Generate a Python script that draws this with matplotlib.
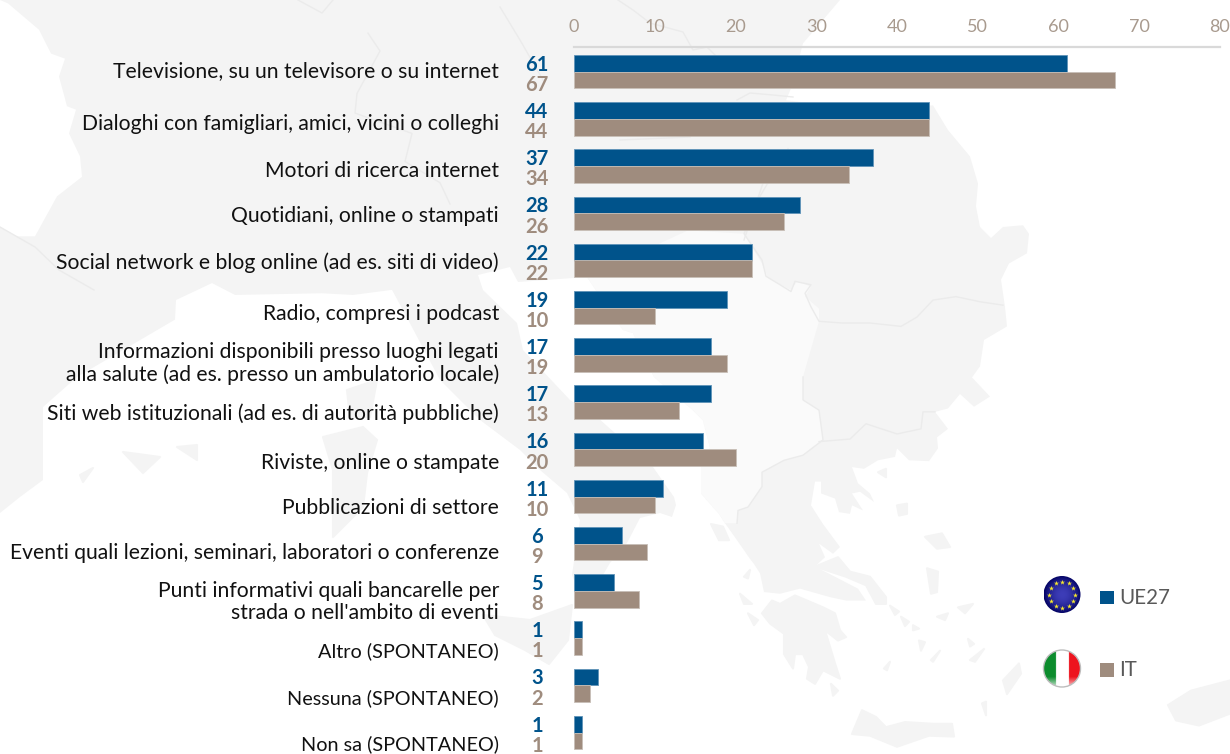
import numpy as np
import matplotlib
matplotlib.use('Agg')
import matplotlib.pyplot as plt
from matplotlib.patches import Polygon, Circle, Rectangle

plt.rcParams['font.family'] = ['Lato', 'DejaVu Sans']

# --- data ---
labels = [
    "Televisione, su un televisore o su internet",
    "Dialoghi con famigliari, amici, vicini o colleghi",
    "Motori di ricerca internet",
    "Quotidiani, online o stampati",
    "Social network e blog online (ad es. siti di video)",
    "Radio, compresi i podcast",
    "Informazioni disponibili presso luoghi legati\nalla salute (ad es. presso un ambulatorio locale)",
    "Siti web istituzionali (ad es. di autorità pubbliche)",
    "Riviste, online o stampate",
    "Pubblicazioni di settore",
    "Eventi quali lezioni, seminari, laboratori o conferenze",
    "Punti informativi quali bancarelle per\nstrada o nell'ambito di eventi",
    "Altro (SPONTANEO)",
    "Nessuna (SPONTANEO)",
    "Non sa (SPONTANEO)",
]
ue27 = [61, 44, 37, 28, 22, 19, 17, 17, 16, 11, 6, 5, 1, 3, 1]
it = [67, 44, 34, 26, 22, 10, 19, 13, 20, 10, 9, 8, 1, 2, 1]
x_ticks = [0, 10, 20, 30, 40, 50, 60, 70, 80]

# labels do not sit exactly on the row centre in the original (pixels, + = down)
label_shift = [-1, 5, 5, 3, 2, 6, 9, 12, 14, 12, 9, 11, 13, 13, 12]
# capitals run wide in Lato, the last three need a smaller size to keep their width
label_size = [15.2] * 12 + [14.3] * 3

BLUE = '#00538b'
BROWN = '#9f8c7e'
W, H = 1230, 754


def up(pts):
    return [(x, y * 0.85) for x, y in pts]


def lo(pts):
    return [(x, 377 + (y - 377) * 0.85) for x, y in pts]


fig = plt.figure(figsize=(W / 100, H / 100), dpi=100)

# --- background map, drawn in pixel coordinates ---
bg = fig.add_axes([0, 0, 1, 1], zorder=0)
bg.set_xlim(0, W)
bg.set_ylim(H, 0)
bg.axis('off')

LAND = '#f4f4f4'
LIGHT = '#fafafa'
BORDER = '#ebebeb'

land = [(0, 0)]
land += up([(840, 0), (803, 51), (791, 104), (786, 118), (860, 128), (933, 124), (948, 153), (970, 184),
            (978, 216), (976, 243), (980, 267), (991, 280), (1003, 267), (1023, 265), (1029, 275), (1027, 298),
            (1009, 310), (1001, 329), (1005, 361), (1007, 384), (984, 400), (980, 431), (972, 444)])
land += lo([(990, 400), (974, 412), (960, 397), (948, 414), (935, 418), (948, 438), (937, 448), (938, 461),
            (929, 476), (909, 475), (897, 461), (895, 471), (878, 475), (864, 485), (852, 483), (858, 502),
            (870, 514), (874, 524), (860, 512), (852, 514), (863, 534), (852, 528), (850, 538), (839, 536),
            (835, 520), (821, 514), (821, 500), (815, 500), (811, 528), (823, 550), (840, 577), (833, 585),
            (819, 573), (825, 589), (815, 600), (835, 612), (858, 626), (866, 640), (846, 640), (830, 636),
            (800, 626), (780, 632), (764, 630), (760, 608), (754, 597), (750, 591), (737, 569), (725, 549),
            (719, 538), (701, 514), (701, 484), (710, 460), (703, 428), (693, 416)])
land += [(654, 377), (633, 333), (623, 330), (587, 277), (518, 282), (510, 267), (478, 275), (483, 290), (517, 323),
         (523, 350), (570, 400), (597, 417), (653, 467), (674, 497), (676, 505), (672, 517), (660, 513), (640, 518),
         (627, 543), (610, 563), (600, 580), (580, 595), (572, 575), (580, 520), (567, 493), (540, 470), (520, 450),
         (480, 420), (440, 380)]
land += up([(408, 376), (392, 341), (353, 347), (322, 345), (235, 347), (212, 333), (176, 353), (175, 376)])
land += [(77, 377), (43, 407), (43, 480), (20, 497), (0, 513)]
bg.add_patch(Polygon(land, closed=True, fc=LAND, ec='none'))

biscay = up([(0, 0), (8, 4), (39, 35), (51, 63), (65, 69), (59, 90), (67, 125), (76, 129), (69, 157), (80, 184),
             (82, 208), (57, 231), (35, 278), (16, 278), (0, 267)])
bg.add_patch(Polygon(biscay, closed=True, fc='white', ec='none'))

# lighter countries (west Balkans)
balkans = up([(688, 271), (744, 275), (764, 314), (768, 327), (791, 341), (797, 331), (811, 337), (805, 349),
              (819, 363), (819, 378)])
balkans += lo([(803, 377), (803, 404), (819, 416), (823, 451), (803, 469), (784, 475), (762, 489), (762, 506),
               (748, 530), (738, 534), (737, 549), (725, 549), (719, 538), (701, 514), (701, 484), (710, 460),
               (703, 428), (693, 416)])
balkans += [(654, 377), (633, 333), (623, 330), (587, 277)]
bg.add_patch(Polygon(balkans, closed=True, fc=LIGHT, ec='none'))

for pts in [
    [(772, 640), (780, 644), (795, 634), (823, 648), (835, 655), (840, 675), (846, 683), (838, 687), (825, 675),
     (835, 714), (840, 732), (823, 722), (815, 738), (807, 732), (809, 718), (803, 703), (795, 703), (793, 720),
     (784, 703), (784, 679), (770, 667), (762, 655)],
    [(815, 600), (838, 589), (850, 606), (870, 612), (886, 636), (886, 644), (876, 644), (866, 622), (846, 612)],
    [(852, 797), (862, 769), (876, 777), (886, 789), (905, 783), (933, 785), (952, 785), (954, 800), (929, 799),
     (897, 812), (870, 799)],
    [(1168, 763), (1191, 746), (1230, 734), (1230, 773), (1199, 787), (1176, 781)],
    [(1003, 734), (1019, 714), (1021, 726), (1007, 750)],
    [(982, 761), (986, 759), (986, 775)],
    [(925, 565), (942, 561), (950, 577), (937, 579)],
    [(927, 602), (938, 606), (937, 630), (931, 632)],
    [(897, 528), (907, 526), (907, 538), (899, 540)],
    [(878, 489), (886, 485), (886, 495)],
    [(711, 550), (723, 553), (729, 569), (719, 569)],
    [(744, 612), (750, 604), (748, 614)],
    [(740, 632), (752, 644), (744, 644)],
    [(748, 655), (758, 663), (754, 669)],
    [(831, 738), (838, 746), (833, 752)],
    [(890, 646), (899, 653), (895, 657)],
    [(901, 659), (909, 665), (905, 670)],
    [(913, 669), (919, 673), (913, 675)],
    [(937, 659), (948, 655), (945, 663)],
    [(958, 648), (973, 644), (965, 655)],
    [(919, 687), (925, 689), (921, 699)],
    [(931, 710), (940, 699), (933, 712)],
    [(970, 710), (984, 697), (975, 712)],
    [(968, 685), (974, 691), (970, 694)],
    [(884, 720), (890, 712), (887, 722)],
]:
    bg.add_patch(Polygon(lo(pts), closed=True, fc=LAND, ec=LAND, lw=1.5, joinstyle='round'))

# west med islands
for pts in [
    [(323, 437), (363, 427), (377, 440), (367, 473), (363, 507), (333, 537), (333, 470)],
    [(347, 390), (377, 380), (370, 417), (350, 417)],
    [(123, 452), (160, 457), (143, 473)],
    [(177, 447), (197, 445), (197, 460)],
    [(80, 475), (93, 468), (83, 482)],
    [(483, 615), (530, 620), (572, 605), (568, 640), (549, 664), (525, 650), (495, 635)],
]:
    bg.add_patch(Polygon(pts, closed=True, fc=LAND, ec=LAND, lw=1.5, joinstyle='round'))

borders = [
    up([(1003, 359), (980, 355), (956, 349), (933, 353), (917, 373), (901, 384), (870, 380), (842, 380), (819, 378),
        (811, 361), (805, 345), (811, 335), (795, 331), (791, 343), (780, 335), (766, 325), (762, 306), (744, 275),
        (760, 231), (788, 175)]),
    lo([(819, 453), (850, 450), (866, 432), (897, 444), (921, 438), (923, 418), (935, 418)]),
    lo([(803, 377), (803, 404), (819, 416), (823, 451), (803, 469), (784, 475), (762, 489), (762, 506), (748, 530),
        (738, 534), (737, 549)]),
    [(0, 227), (35, 247), (59, 270), (94, 290)],
    up([(368, 39), (380, 60), (357, 110), (355, 133), (412, 157), (405, 190), (440, 215), (450, 240)]),
    [(618, 0), (633, 10), (650, 23), (683, 32), (693, 50), (707, 47), (717, 57)],
    [(737, 100), (750, 93), (773, 95), (793, 97)],
    [(500, 7), (520, 40), (543, 80)],
    [(620, 140), (690, 137)],
    [(763, 183), (753, 213), (744, 240)],
    [(298, 0), (322, 13), (333, 0)],
]
for pts in borders:
    bg.plot(*zip(*pts), color=BORDER, lw=1.0, solid_joinstyle='round')

# --- chart ---
ax = fig.add_axes([574 / W, 1 - 754 / H, (1220 - 574) / W, (754 - 47) / H], zorder=1)
ax.patch.set_alpha(0)

y = np.arange(len(labels))
bar_h = 0.354
ax.barh(y - bar_h / 2, ue27, height=bar_h, color=BLUE, edgecolor='#5f93b8', linewidth=0.6)
ax.barh(y + bar_h / 2, it, height=bar_h, color=BROWN, edgecolor='#c8bfb7', linewidth=0.6)

ax.set_xlim(0, 80)
ax.set_ylim((754 - 71.7) / 47.2, (47 - 71.7) / 47.2)
ax.set_yticks([])
ax.xaxis.tick_top()
ax.set_xticks(x_ticks)
ax.tick_params(axis='x', length=0, pad=8.5, labelsize=13, labelcolor='#a89a8e')
for s in ['left', 'right', 'bottom']:
    ax.spines[s].set_visible(False)
ax.spines['top'].set_color('#d9d9d9')
ax.spines['top'].set_linewidth(1.6)

for i, lab in enumerate(labels):
    ax.annotate(lab, xy=(0, i), xytext=(-54, -label_shift[i] * 0.72),
                textcoords='offset points', ha='right', va='center', fontsize=label_size[i], color='#111111',
                linespacing=1.15)
    ax.annotate(str(ue27[i]), xy=(0, i), xytext=(-26.6, 5), textcoords='offset points',
                ha='center', va='center', fontsize=14.5, fontweight='bold', color=BLUE)
    ax.annotate(str(it[i]), xy=(0, i), xytext=(-26.6, -9.6), textcoords='offset points',
                ha='center', va='center', fontsize=14.5, fontweight='bold', color=BROWN)

# --- legend with flags ---
lg = fig.add_axes([0, 0, 1, 1], zorder=2)
lg.axis('off')
lg.patch.set_alpha(0)

yy, xx = np.mgrid[-1:1:80j, -1:1:80j]
rr = np.hypot(xx, yy)

# EU
cx, cy, r = 1062, 594.5, 18.5
eu = np.zeros((80, 80, 3))
eu[..., 0] = 0.24 - 0.22 * rr ** 2
eu[..., 1] = 0.24 - 0.22 * rr ** 2
eu[..., 2] = 0.72 - 0.32 * rr ** 2
im = lg.imshow(np.clip(eu, 0, 1), extent=(cx - r, cx + r, cy + r, cy - r), zorder=3, aspect='auto')
im.set_clip_path(Circle((cx, cy), r, transform=lg.transData))
ang = np.linspace(0, 2 * np.pi, 12, endpoint=False)
lg.scatter(cx + 13 * np.cos(ang), cy + 13 * np.sin(ang), marker='*', s=14, color='#f7e92e', linewidths=0, zorder=4)

# IT
cy2 = 668.5
itf = np.ones((80, 80, 3))
itf[xx < -0.36] = [0.05, 0.55, 0.18]
itf[xx > 0.36] = [0.93, 0.08, 0.12]
shade = np.clip((yy - 0.45) * 1.4, 0, 0.85)[..., None]
itf = itf + (1 - itf) * shade
im2 = lg.imshow(itf, extent=(cx - r, cx + r, cy2 + r, cy2 - r), zorder=3, aspect='auto')
im2.set_clip_path(Circle((cx, cy2), r, transform=lg.transData))
lg.add_patch(Circle((cx, cy2), r, fc='none', ec='#bdbdbd', lw=1.0, zorder=4))
lg.set_xlim(0, W)
lg.set_ylim(H, 0)

lg.add_patch(Rectangle((1100, 591), 14, 13, fc=BLUE, ec='none'))
lg.add_patch(Rectangle((1100, 663), 14, 14, fc=BROWN, ec='none'))
lg.text(1119, 597.5, 'UE27', fontsize=14.8, color='#595959', va='center', ha='left')
lg.text(1119, 669.5, 'IT', fontsize=14.8, color='#595959', va='center', ha='left')

fig.savefig('out.png', dpi=100)
